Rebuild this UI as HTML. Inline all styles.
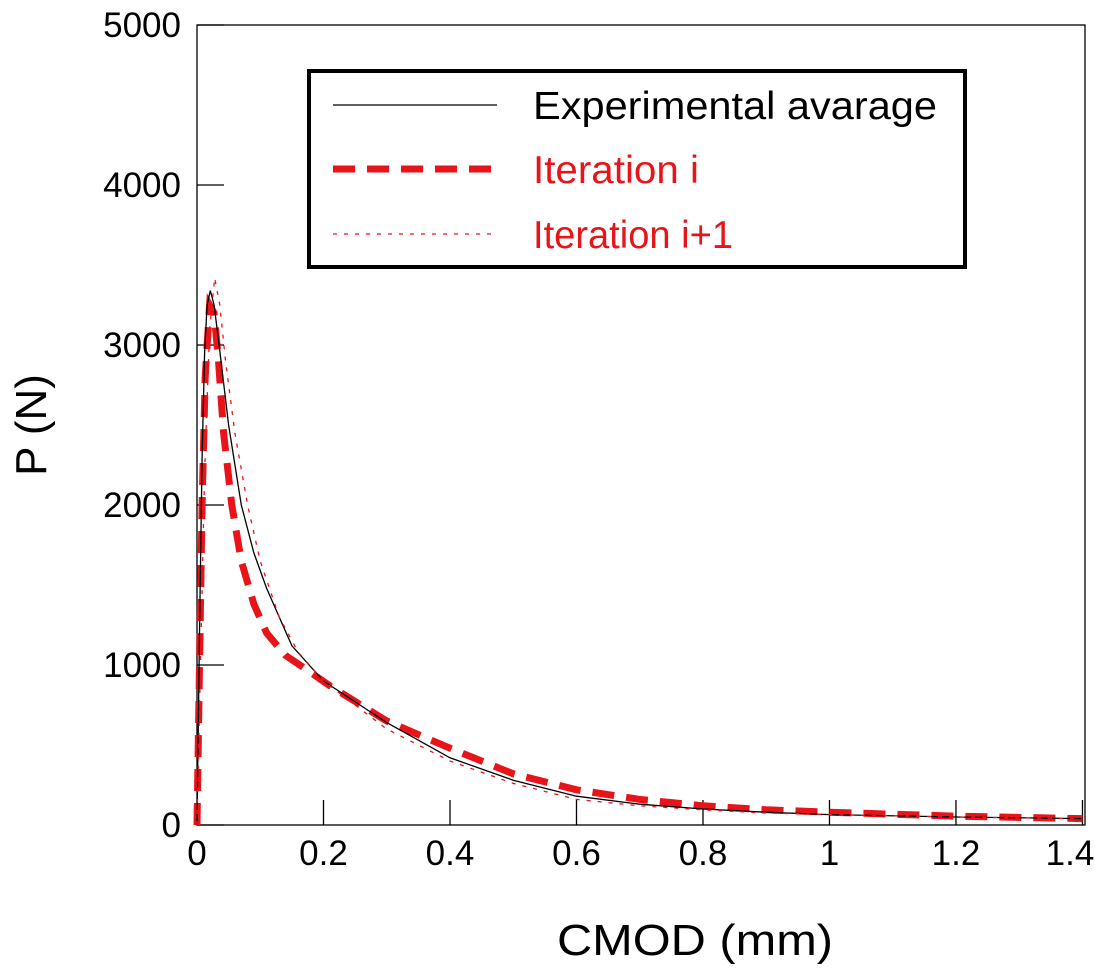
<!DOCTYPE html>
<html><head><meta charset="utf-8"><style>
html,body{margin:0;padding:0;background:#fff}
svg{display:block;font-family:"Liberation Sans",Arial,sans-serif}
</style></head><body>
<svg id="chart" width="1095" height="970" viewBox="0 0 1095 970">
<g id="plot"></g>
</svg>
<script>
const xTicks=[0,0.2,0.4,0.6,0.8,1,1.2,1.4];
const xTickLabels=["0","0.2","0.4","0.6","0.8","1","1.2","1.4"];
const yTicks=[0,1000,2000,3000,4000,5000];
const yTickLabels=["0","1000","2000","3000","4000","5000"];
const expX=[0,0.004,0.008,0.012,0.016,0.021,0.027,0.035,0.05,0.07,0.09,0.11,0.13,0.15,0.2,0.3,0.4,0.5,0.6,0.7,0.8,0.9,1.0,1.2,1.4];
const expP=[0,1200,2300,2950,3250,3340,3250,3000,2500,2000,1700,1480,1300,1120,900,640,420,280,180,130,100,80,65,50,40];
const itX=[0,0.004,0.008,0.013,0.02,0.027,0.034,0.042,0.055,0.07,0.09,0.11,0.14,0.17,0.21,0.3,0.4,0.5,0.6,0.7,0.8,0.9,1.0,1.2,1.4];
const itP=[0,1000,2000,2800,3250,3200,2900,2450,2000,1650,1380,1200,1060,980,870,650,480,320,220,160,120,95,80,55,40];
const it1X=[0,0.006,0.012,0.02,0.028,0.036,0.045,0.06,0.08,0.1,0.13,0.16,0.2,0.3,0.4,0.5,0.6,0.7,0.8,0.9,1.0,1.2,1.4];
const it1P=[0,1100,2200,3100,3420,3250,2900,2450,2000,1650,1300,1080,900,600,400,260,160,120,95,75,65,50,40];

const NS="http://www.w3.org/2000/svg";
const L=197,R=1085,T=25,B=825,XMAX=1.404,YMAX=5000;
const sx=v=>L+v/XMAX*(R-L);
const sy=v=>B-v/YMAX*(B-T);
const g=document.getElementById('plot');
function mk(tag,attrs,parent){const e=document.createElementNS(NS,tag);for(const k in attrs)e.setAttribute(k,attrs[k]);(parent||g).appendChild(e);return e;}

const frame=mk('rect',{x:L,y:T,width:R-L,height:B-T,fill:'none',stroke:'#000','stroke-width':1.3});



xTicks.forEach((v,i)=>{
  const t=mk('line',{x1:sx(v),x2:sx(v),y1:B,y2:B-25,stroke:'#000','stroke-width':1.3});
  
  
  const lb=mk('text',{x:Math.min(sx(v),1070),y:865,'font-size':35,'text-anchor':'middle'});
  lb.textContent=xTickLabels[i];
  
  
});
yTicks.forEach((v,i)=>{
  const t=mk('line',{x1:L,x2:L+27,y1:sy(v),y2:sy(v),stroke:'#000','stroke-width':1.3});
  
  
  const lb=mk('text',{x:181,y:sy(v)+12,'font-size':35,'text-anchor':'end'});
  lb.textContent=yTickLabels[i];
  
  
});

function series(xs,ps,attrs,name){
  const d=xs.map((x,i)=>(i?'L':'M')+sx(x).toFixed(1)+','+sy(ps[i]).toFixed(1)).join('');
  const p=mk('path',Object.assign({d:d,fill:'none'},attrs));
  
  
}
series(itX,itP,{stroke:'#e8141a','stroke-width':7,'stroke-dasharray':'22 12'},'series-iteration-i');
series(expX,expP,{stroke:'#000','stroke-width':1.3},'series-experimental-average');
series(it1X,it1P,{stroke:'#e8141a','stroke-width':1.3,'stroke-dasharray':'4 7'},'series-iteration-i-plus-1');

const xt=mk('text',{x:695,y:955,'font-size':44,'text-anchor':'middle',textLength:276,lengthAdjust:'spacingAndGlyphs'});
xt.textContent='CMOD (mm)';


const yt=mk('text',{x:0,y:0,'font-size':44,'text-anchor':'middle',transform:'translate(46,425) rotate(-90)'});
yt.textContent='P (N)';



const lg=mk('g',{});


mk('rect',{x:309,y:71,width:656,height:196,fill:'#fff',stroke:'#000','stroke-width':4},lg);
const entries=[
 {name:'legend-entry-experimental',label:'Experimental avarage',color:'#000',w:1.3,dash:'',y:105,tl:404},
 {name:'legend-entry-iteration-i',label:'Iteration i',color:'#e8141a',w:7,dash:'22 12',y:169,tl:166},
 {name:'legend-entry-iteration-i-plus-1',label:'Iteration i+1',color:'#e8141a',w:1.3,dash:'4 7',y:234,tl:200}
];
entries.forEach(e=>{
  const eg=mk('g',{},lg);
  
  
  mk('line',{x1:333,x2:497,y1:e.y,y2:e.y,stroke:e.color,'stroke-width':e.w,'stroke-dasharray':e.dash},eg);
  const t=mk('text',{x:533,y:e.y+14,'font-size':39,fill:e.color,textLength:e.tl,lengthAdjust:'spacingAndGlyphs'},eg);
  t.textContent=e.label;
});
</script>
</body></html>
